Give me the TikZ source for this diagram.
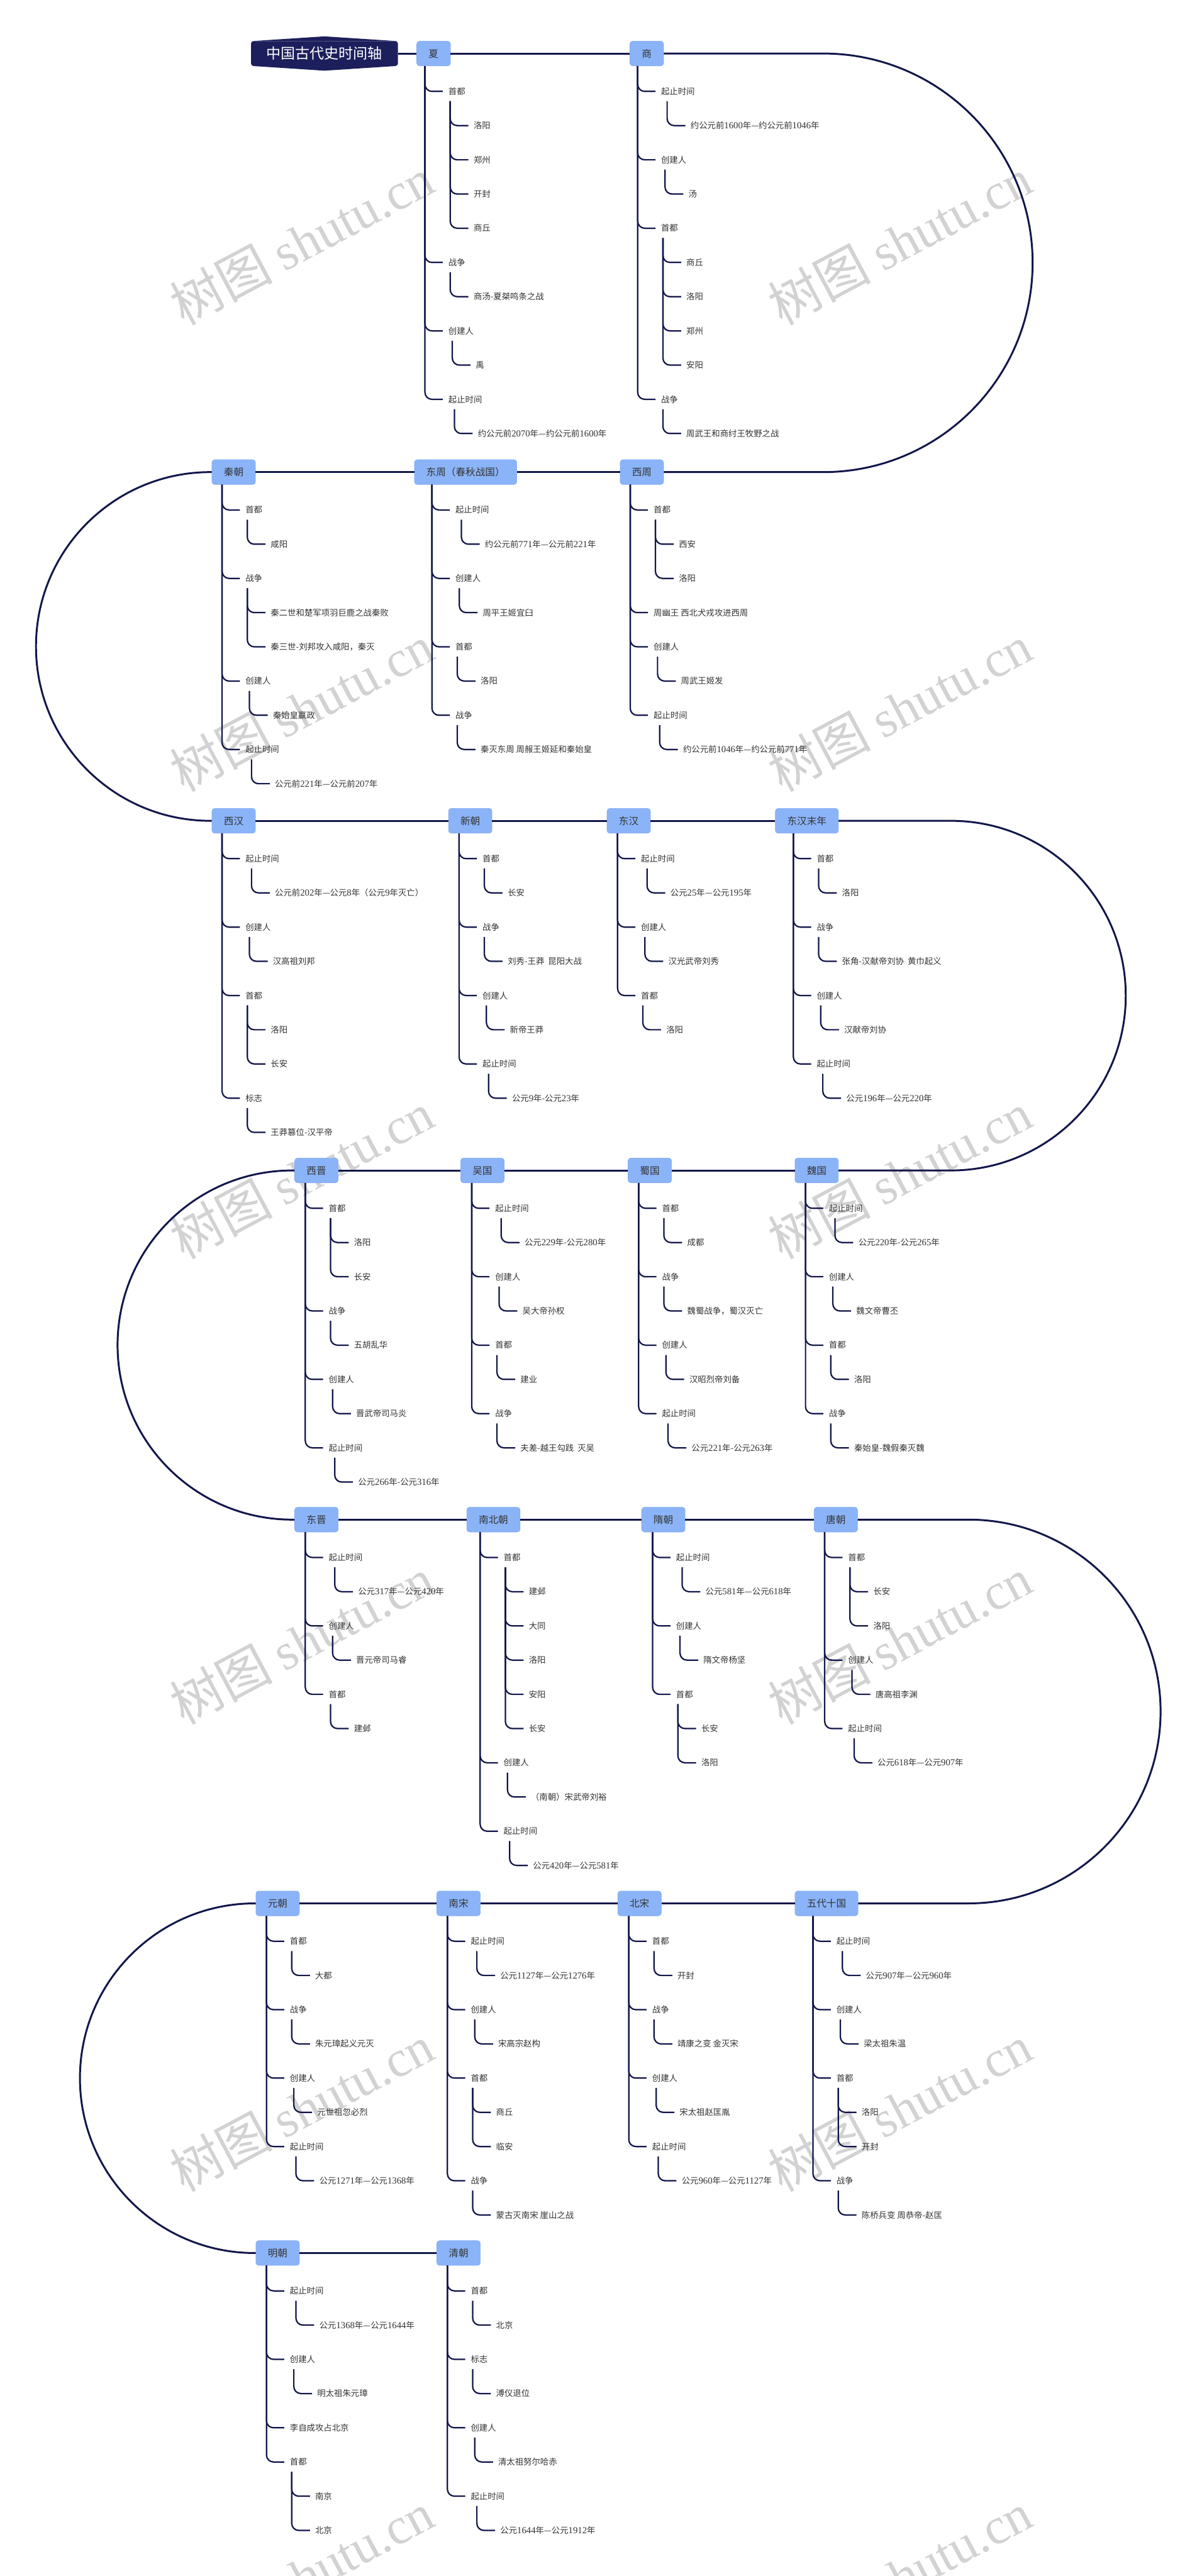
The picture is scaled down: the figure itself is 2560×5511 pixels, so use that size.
\documentclass[tikz,border=0pt]{standalone}
\usepackage{fontspec}
\setmainfont{Noto Sans CJK SC}
\newfontfamily\dgfont{Liberation Serif}[Scale=1.1]
\newfontfamily\wmfont{Liberation Serif}
\usetikzlibrary{calc}
\definecolor{boxblue}{HTML}{8BB4F8}
\definecolor{boxedge}{HTML}{7FA9F2}
\definecolor{navyline}{HTML}{12164A}
\definecolor{titlefill}{HTML}{1C1F5C}
\definecolor{txt}{HTML}{333333}
\newcommand\dg[1]{{\dgfont #1}}
\newcommand\setcol[4]{\def\cb{#1}\pgfmathsetmacro\tx{#2+#3}\def\toff{#3}\def\ry{#4}}
\newcommand\lvA[3]{\pgfmathsetmacro\yy{\ry+81+73.2*#2}%
  \node[lab] (#1) at (\tx+50,\yy) {#3};%
  \draw[br] ($(\cb.south west)+(\toff,0)$) |- ($(#1.west)+(-12,0)$);}
\newcommand\lvB[5]{\pgfmathsetmacro\yy{\ry+81+73.2*#4}\pgfmathsetmacro\xx{\tx+100+#3}%
  \node[lab] (#1) at (\xx,\yy) {#5};%
  \draw[br] ($(#2.west)+(#3,21)$) |- ($(#1.west)+(-11,0)$);}
\begin{document}
\begin{tikzpicture}[x=1pt,y=-1pt,
  lab/.style={anchor=west,inner sep=0pt,text=txt,font=\fontsize{18}{18}\selectfont,text height=15.8pt,text depth=2.2pt},
  br/.style={draw=navyline,line width=3pt,rounded corners=15pt},
  tl/.style={draw=navyline,line width=4pt},
  pbox/.style={anchor=west,fill=boxblue,draw=boxedge,line width=0.8pt,rounded corners=6pt,minimum height=53pt,inner xsep=25.5pt,inner ysep=0pt,text=txt,font=\fontsize{21}{21}\selectfont,text height=18.5pt,text depth=2.5pt},
  ttl/.style={fill=titlefill,text=white,rounded corners=5pt,minimum width=314pt,minimum height=53pt,inner sep=0pt,font=\fontsize{31}{31}\selectfont},
  wm/.style={text=gray!35,font=\fontsize{110}{110}\selectfont,rotate=28,inner sep=0pt}]
\useasboundingbox (0,0) rectangle (2560,5511);
\fill[white] (0,0) rectangle (2560,5511);
\clip (0,0) rectangle (2560,5511);
% watermarks
\foreach \wy [count=\i] in {516,1515,2515,3510,4510,5510}{
  \node[wm] (wmL\i) at (645,\wy) {树图 {\wmfont shutu.cn}};
  \node[wm] (wmR\i) at (1925,\wy) {树图 {\wmfont shutu.cn}};
}
% title
\node[ttl] (title) at (694,114.5) {中国古代史时间轴};
\fill[titlefill] ($(title.north west)+(4,0)$) -- ($(title.north)+(0,-10)$) -- ($(title.north east)+(-4,0)$) -- cycle;
\fill[titlefill] ($(title.south west)+(4,0)$) -- ($(title.south)+(0,10)$) -- ($(title.south east)+(-4,0)$) -- cycle;
% period boxes
\node[pbox] (xia) at (891,114.5) {夏};
\node[pbox] (shang) at (1347,114.5) {商};
\node[pbox] (qin) at (453,1010) {秦朝};
\node[pbox] (dongzhou) at (886,1010) {东周（春秋战国）};
\node[pbox] (xizhou) at (1326,1010) {西周};
\node[pbox] (xihan) at (453,1756) {西汉};
\node[pbox] (xinchao) at (959,1756) {新朝};
\node[pbox] (donghan) at (1298,1756) {东汉};
\node[pbox] (dhmn) at (1658,1756) {东汉末年};
\node[pbox] (xijin) at (630,2504) {西晋};
\node[pbox] (wu) at (985,2504) {吴国};
\node[pbox] (shu) at (1343,2504) {蜀国};
\node[pbox] (wei) at (1700,2504) {魏国};
\node[pbox] (dongjin) at (630,3251) {东晋};
\node[pbox] (nbc) at (998,3251) {南北朝};
\node[pbox] (sui) at (1372,3251) {隋朝};
\node[pbox] (tang) at (1741,3251) {唐朝};
\node[pbox] (yuan) at (547,4072) {元朝};
\node[pbox] (nansong) at (934,4072) {南宋};
\node[pbox] (beisong) at (1321,4072) {北宋};
\node[pbox] (wudai) at (1700,4072) {五代十国};
\node[pbox] (ming) at (547,4820) {明朝};
\node[pbox] (qing) at (934,4820) {清朝};
% timeline
\draw[tl] (title.east) -- (xia.west);
\draw[tl] (xia.east) -- (shang.west);
\draw[tl] (shang.east) -- (1761,114.5) .. controls (2008.3,114.5) and (2208.75,315) .. (2208.75,562.25) .. controls (2208.75,809.5) and (2008.3,1010) .. (1761,1010) -- (xizhou.east);
\draw[tl] (xizhou.west) -- (dongzhou.east);
\draw[tl] (dongzhou.west) -- (qin.east);
\draw[tl] (qin.west) -- (450,1010) .. controls (244,1010) and (77,1177) .. (77,1383) .. controls (77,1589) and (244,1756) .. (450,1756) -- (xihan.west);
\draw[tl] (xihan.east) -- (xinchao.west);
\draw[tl] (xinchao.east) -- (donghan.west);
\draw[tl] (donghan.east) -- (dhmn.west);
\draw[tl] (dhmn.east) -- (2034,1756) .. controls (2240.6,1756) and (2408,1923.4) .. (2408,2130) .. controls (2408,2336.6) and (2240.6,2504) .. (2034,2504) -- (wei.east);
\draw[tl] (wei.west) -- (shu.east);
\draw[tl] (shu.west) -- (wu.east);
\draw[tl] (wu.west) -- (xijin.east);
\draw[tl] (xijin.west) -- (625,2504) .. controls (418.7,2504) and (251.5,2671.2) .. (251.5,2877.5) .. controls (251.5,3083.8) and (418.7,3251) .. (625,3251) -- (dongjin.west);
\draw[tl] (dongjin.east) -- (nbc.west);
\draw[tl] (nbc.east) -- (sui.west);
\draw[tl] (sui.east) -- (tang.west);
\draw[tl] (tang.east) -- (2072,3251) .. controls (2298.7,3251) and (2482.5,3434.8) .. (2482.5,3661.5) .. controls (2482.5,3888.2) and (2298.7,4072) .. (2072,4072) -- (wudai.east);
\draw[tl] (wudai.west) -- (beisong.east);
\draw[tl] (beisong.west) -- (nansong.east);
\draw[tl] (nansong.west) -- (yuan.east);
\draw[tl] (yuan.west) -- (545,4072) .. controls (338.4,4072) and (171,4239.4) .. (171,4446) .. controls (171,4652.6) and (338.4,4820) .. (545,4820) -- (ming.west);
\draw[tl] (ming.east) -- (qing.west);
% ---- 夏
\setcol{xia}{891}{18}{114.5}
\lvA{xa}{0}{首都}
\lvB{xa1}{xa}{4}{1}{洛阳}
\lvB{xa2}{xa}{4}{2}{郑州}
\lvB{xa3}{xa}{4}{3}{开封}
\lvB{xa4}{xa}{4}{4}{商丘}
\lvA{xb}{5}{战争}
\lvB{xb1}{xb}{4}{6}{商汤-夏桀鸣条之战}
\lvA{xc}{7}{创建人}
\lvB{xc1}{xc}{8.5}{8}{禹}
\lvA{xd}{9}{起止时间}
\lvB{xd1}{xd}{13}{10}{约公元前\dg{2070}年—约公元前\dg{1600}年}
% ---- 商
\setcol{shang}{1347}{17}{114.5}
\lvA{sa}{0}{起止时间}
\lvB{sa1}{sa}{13}{1}{约公元前\dg{1600}年—约公元前\dg{1046}年}
\lvA{sb}{2}{创建人}
\lvB{sb1}{sb}{8.5}{3}{汤}
\lvA{sc}{4}{首都}
\lvB{sc1}{sc}{4}{5}{商丘}
\lvB{sc2}{sc}{4}{6}{洛阳}
\lvB{sc3}{sc}{4}{7}{郑州}
\lvB{sc4}{sc}{4}{8}{安阳}
\lvA{sd}{9}{战争}
\lvB{sd1}{sd}{4}{10}{周武王和商纣王牧野之战}
% ---- 秦朝
\setcol{qin}{453}{22}{1010}
\lvA{qa}{0}{首都}
\lvB{qa1}{qa}{4}{1}{咸阳}
\lvA{qb}{2}{战争}
\lvB{qb1}{qb}{4}{3}{秦二世和楚军项羽巨鹿之战秦败}
\lvB{qb2}{qb}{4}{4}{秦三世-刘邦攻入咸阳，秦灭}
\lvA{qc}{5}{创建人}
\lvB{qc1}{qc}{8.5}{6}{秦始皇嬴政}
\lvA{qd}{7}{起止时间}
\lvB{qd1}{qd}{13}{8}{公元前\dg{221}年—公元前\dg{207}年}
% ---- 东周
\setcol{dongzhou}{886}{38}{1010}
\lvA{da}{0}{起止时间}
\lvB{da1}{da}{13}{1}{约公元前\dg{771}年—公元前\dg{221}年}
\lvA{db}{2}{创建人}
\lvB{db1}{db}{8.5}{3}{周平王姬宜臼}
\lvA{dc}{4}{首都}
\lvB{dc1}{dc}{4}{5}{洛阳}
\lvA{dd}{6}{战争}
\lvB{dd1}{dd}{4}{7}{秦灭东周 周赧王姬延和秦始皇}
% ---- 西周
\setcol{xizhou}{1326}{22}{1010}
\lvA{za}{0}{首都}
\lvB{za1}{za}{4}{1}{西安}
\lvB{za2}{za}{4}{2}{洛阳}
\lvA{zb}{3}{周幽王 西北犬戎攻进西周}
\lvA{zc}{4}{创建人}
\lvB{zc1}{zc}{8.5}{5}{周武王姬发}
\lvA{zd}{6}{起止时间}
\lvB{zd1}{zd}{13}{7}{约公元前\dg{1046}年—约公元前\dg{771}年}
% ---- 西汉
\setcol{xihan}{453}{22}{1756}
\lvA{ha}{0}{起止时间}
\lvB{ha1}{ha}{13}{1}{公元前\dg{202}年—公元\dg{8}年（公元\dg{9}年灭亡）}
\lvA{hb}{2}{创建人}
\lvB{hb1}{hb}{8.5}{3}{汉高祖刘邦}
\lvA{hc}{4}{首都}
\lvB{hc1}{hc}{4}{5}{洛阳}
\lvB{hc2}{hc}{4}{6}{长安}
\lvA{hd}{7}{标志}
\lvB{hd1}{hd}{4}{8}{王莽篡位-汉平帝}
% ---- 新朝
\setcol{xinchao}{959}{23}{1756}
\lvA{na}{0}{首都}
\lvB{na1}{na}{4}{1}{长安}
\lvA{nb}{2}{战争}
\lvB{nb1}{nb}{4}{3}{刘秀-王莽\ \ 昆阳大战}
\lvA{nc}{4}{创建人}
\lvB{nc1}{nc}{8.5}{5}{新帝王莽}
\lvA{nd}{6}{起止时间}
\lvB{nd1}{nd}{13}{7}{公元\dg{9}年-公元\dg{23}年}
% ---- 东汉
\setcol{donghan}{1298}{23}{1756}
\lvA{ea}{0}{起止时间}
\lvB{ea1}{ea}{13}{1}{公元\dg{25}年—公元\dg{195}年}
\lvA{eb}{2}{创建人}
\lvB{eb1}{eb}{8.5}{3}{汉光武帝刘秀}
\lvA{ec}{4}{首都}
\lvB{ec1}{ec}{4}{5}{洛阳}
% ---- 东汉末年
\setcol{dhmn}{1658}{39}{1756}
\lvA{ma}{0}{首都}
\lvB{ma1}{ma}{4}{1}{洛阳}
\lvA{mb}{2}{战争}
\lvB{mb1}{mb}{4}{3}{张角-汉献帝刘协\ \ 黄巾起义}
\lvA{mc}{4}{创建人}
\lvB{mc1}{mc}{8.5}{5}{汉献帝刘协}
\lvA{md}{6}{起止时间}
\lvB{md1}{md}{13}{7}{公元\dg{196}年—公元\dg{220}年}
% ---- 西晋
\setcol{xijin}{630}{23}{2504}
\lvA{ja}{0}{首都}
\lvB{ja1}{ja}{4}{1}{洛阳}
\lvB{ja2}{ja}{4}{2}{长安}
\lvA{jb}{3}{战争}
\lvB{jb1}{jb}{4}{4}{五胡乱华}
\lvA{jc}{5}{创建人}
\lvB{jc1}{jc}{8.5}{6}{晋武帝司马炎}
\lvA{jd}{7}{起止时间}
\lvB{jd1}{jd}{13}{8}{公元\dg{266}年-公元\dg{316}年}
% ---- 吴国
\setcol{wu}{985}{24}{2504}
\lvA{wa}{0}{起止时间}
\lvB{wa1}{wa}{13}{1}{公元\dg{229}年-公元\dg{280}年}
\lvA{wb}{2}{创建人}
\lvB{wb1}{wb}{8.5}{3}{吴大帝孙权}
\lvA{wc}{4}{首都}
\lvB{wc1}{wc}{4}{5}{建业}
\lvA{wd}{6}{战争}
\lvB{wd1}{wd}{4}{7}{夫差-越王勾践\ \ 灭吴}
% ---- 蜀国
\setcol{shu}{1343}{23}{2504}
\lvA{ua}{0}{首都}
\lvB{ua1}{ua}{4}{1}{成都}
\lvA{ub}{2}{战争}
\lvB{ub1}{ub}{4}{3}{魏蜀战争，蜀汉灭亡}
\lvA{uc}{4}{创建人}
\lvB{uc1}{uc}{8.5}{5}{汉昭烈帝刘备}
\lvA{ud}{6}{起止时间}
\lvB{ud1}{ud}{13}{7}{公元\dg{221}年-公元\dg{263}年}
% ---- 魏国
\setcol{wei}{1700}{23}{2504}
\lvA{va}{0}{起止时间}
\lvB{va1}{va}{13}{1}{公元\dg{220}年-公元\dg{265}年}
\lvA{vb}{2}{创建人}
\lvB{vb1}{vb}{8.5}{3}{魏文帝曹丕}
\lvA{vc}{4}{首都}
\lvB{vc1}{vc}{4}{5}{洛阳}
\lvA{vd}{6}{战争}
\lvB{vd1}{vd}{4}{7}{秦始皇-魏假秦灭魏}
% ---- 东晋
\setcol{dongjin}{630}{23}{3251}
\lvA{ka}{0}{起止时间}
\lvB{ka1}{ka}{13}{1}{公元\dg{317}年—公元\dg{420}年}
\lvA{kb}{2}{创建人}
\lvB{kb1}{kb}{8.5}{3}{晋元帝司马睿}
\lvA{kc}{4}{首都}
\lvB{kc1}{kc}{4}{5}{建邺}
% ---- 南北朝
\setcol{nbc}{998}{29}{3251}
\lvA{ba}{0}{首都}
\lvB{ba1}{ba}{4}{1}{建邺}
\lvB{ba2}{ba}{4}{2}{大同}
\lvB{ba3}{ba}{4}{3}{洛阳}
\lvB{ba4}{ba}{4}{4}{安阳}
\lvB{ba5}{ba}{4}{5}{长安}
\lvA{bb}{6}{创建人}
\lvB{bb1}{bb}{8.5}{7}{（南朝）宋武帝刘裕}
\lvA{bc}{8}{起止时间}
\lvB{bc1}{bc}{13}{9}{公元\dg{420}年—公元\dg{581}年}
% ---- 隋朝
\setcol{sui}{1372}{24}{3251}
\lvA{ia}{0}{起止时间}
\lvB{ia1}{ia}{13}{1}{公元\dg{581}年—公元\dg{618}年}
\lvA{ib}{2}{创建人}
\lvB{ib1}{ib}{8.5}{3}{隋文帝杨坚}
\lvA{ic}{4}{首都}
\lvB{ic1}{ic}{4}{5}{长安}
\lvB{ic2}{ic}{4}{6}{洛阳}
% ---- 唐朝
\setcol{tang}{1741}{23}{3251}
\lvA{ta}{0}{首都}
\lvB{ta1}{ta}{4}{1}{长安}
\lvB{ta2}{ta}{4}{2}{洛阳}
\lvA{tb}{3}{创建人}
\lvB{tb1}{tb}{8.5}{4}{唐高祖李渊}
\lvA{tc}{5}{起止时间}
\lvB{tc1}{tc}{13}{6}{公元\dg{618}年—公元\dg{907}年}
% ---- 元朝
\setcol{yuan}{547}{23}{4072}
\lvA{ya}{0}{首都}
\lvB{ya1}{ya}{4}{1}{大都}
\lvA{yb}{2}{战争}
\lvB{yb1}{yb}{4}{3}{朱元璋起义元灭}
\lvA{yc}{4}{创建人}
\lvB{yc1}{yc}{8.5}{5}{元世祖忽必烈}
\lvA{yd}{6}{起止时间}
\lvB{yd1}{yd}{13}{7}{公元\dg{1271}年—公元\dg{1368}年}
% ---- 南宋
\setcol{nansong}{934}{23}{4072}
\lvA{pa}{0}{起止时间}
\lvB{pa1}{pa}{13}{1}{公元\dg{1127}年—公元\dg{1276}年}
\lvA{pb}{2}{创建人}
\lvB{pb1}{pb}{8.5}{3}{宋高宗赵构}
\lvA{pc}{4}{首都}
\lvB{pc1}{pc}{4}{5}{商丘}
\lvB{pc2}{pc}{4}{6}{临安}
\lvA{pd}{7}{战争}
\lvB{pd1}{pd}{4}{8}{蒙古灭南宋 崖山之战}
% ---- 北宋
\setcol{beisong}{1321}{24}{4072}
\lvA{oa}{0}{首都}
\lvB{oa1}{oa}{4}{1}{开封}
\lvA{ob}{2}{战争}
\lvB{ob1}{ob}{4}{3}{靖康之变 金灭宋}
\lvA{oc}{4}{创建人}
\lvB{oc1}{oc}{8.5}{5}{宋太祖赵匡胤}
\lvA{od}{6}{起止时间}
\lvB{od1}{od}{13}{7}{公元\dg{960}年—公元\dg{1127}年}
% ---- 五代十国
\setcol{wudai}{1700}{39}{4072}
\lvA{fa}{0}{起止时间}
\lvB{fa1}{fa}{13}{1}{公元\dg{907}年—公元\dg{960}年}
\lvA{fb}{2}{创建人}
\lvB{fb1}{fb}{8.5}{3}{梁太祖朱温}
\lvA{fc}{4}{首都}
\lvB{fc1}{fc}{4}{5}{洛阳}
\lvB{fc2}{fc}{4}{6}{开封}
\lvA{fd}{7}{战争}
\lvB{fd1}{fd}{4}{8}{陈桥兵变 周恭帝-赵匡}
% ---- 明朝
\setcol{ming}{547}{23}{4820}
\lvA{ga}{0}{起止时间}
\lvB{ga1}{ga}{13}{1}{公元\dg{1368}年—公元\dg{1644}年}
\lvA{gb}{2}{创建人}
\lvB{gb1}{gb}{8.5}{3}{明太祖朱元璋}
\lvA{gc}{4}{李自成攻占北京}
\lvA{gd}{5}{首都}
\lvB{gd1}{gd}{4}{6}{南京}
\lvB{gd2}{gd}{4}{7}{北京}
% ---- 清朝
\setcol{qing}{934}{23}{4820}
\lvA{ca}{0}{首都}
\lvB{ca1}{ca}{4}{1}{北京}
\lvA{cb}{2}{标志}
\lvB{cb1}{cb}{4}{3}{溥仪退位}
\lvA{cc}{4}{创建人}
\lvB{cc1}{cc}{8.5}{5}{清太祖努尔哈赤}
\lvA{cd}{6}{起止时间}
\lvB{cd1}{cd}{13}{7}{公元\dg{1644}年—公元\dg{1912}年}
\end{tikzpicture}
\end{document}
